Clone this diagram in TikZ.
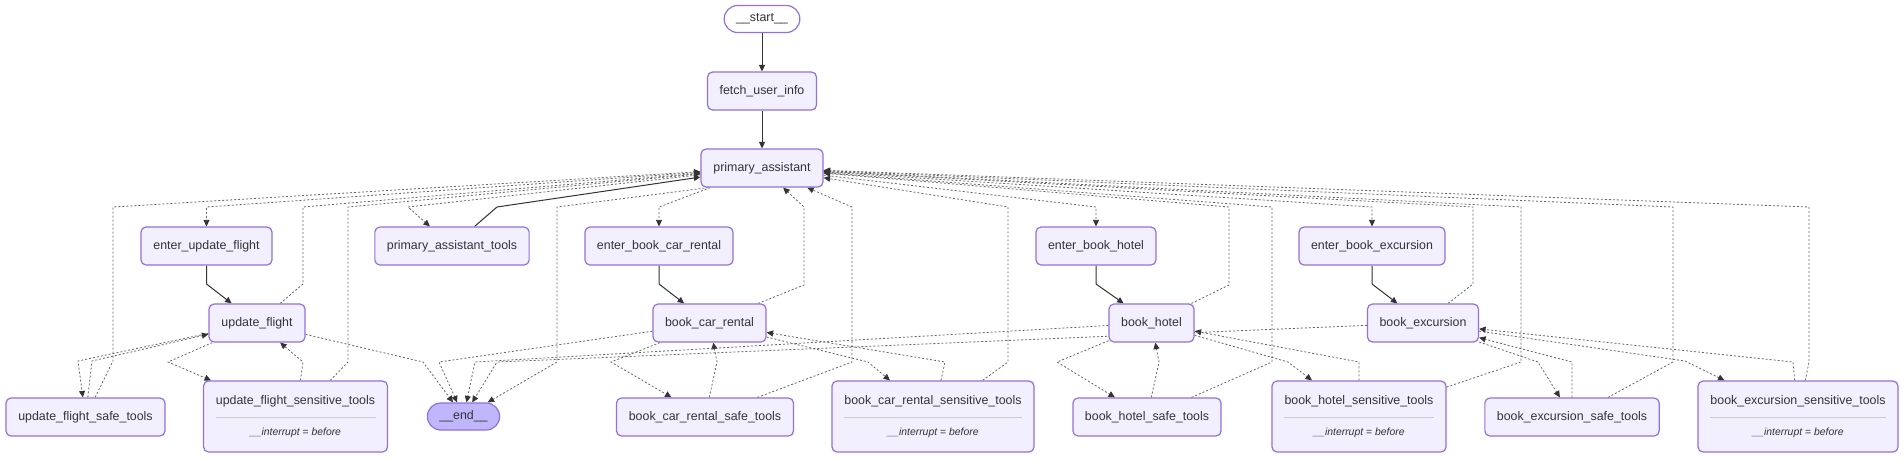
\documentclass[tikz,border=0pt]{standalone}
\usepackage{fontspec}
\setmainfont{Liberation Sans}
\usetikzlibrary{arrows.meta,backgrounds}
\definecolor{nodefill}{HTML}{F2F0FF}
\definecolor{nodeline}{HTML}{9370DB}
\definecolor{endfill}{HTML}{BFB6FC}
\definecolor{darktext}{HTML}{333333}
\definecolor{edgegray}{HTML}{666666}
\definecolor{divgray}{HTML}{CCCCCC}

\newcommand{\senslabel}[2]{#1\\[1pt]{\color{divgray}\rule[3pt]{#2pt}{0.8pt}}\\[0pt]{\fontsize{10.4}{12}\selectfont\itshape \_\_interrupt \upshape= \itshape before}}

\begin{document}
\begin{tikzpicture}[x=1pt, y=-1pt,
  box/.style={draw=nodeline, line width=1.2pt, fill=nodefill, rounded corners=5pt, minimum height=38pt, inner xsep=12pt, inner ysep=2pt, text=darktext, font=\fontsize{12.4}{14.8}\selectfont},
  sens/.style={box, minimum height=71pt, align=center},
  pill/.style={box, rounded corners=13.5pt, minimum height=27pt},
  flow/.style={draw=darktext, line width=1pt, -{Triangle[length=6.5pt,width=6pt]}},
  cond/.style={draw=edgegray, line width=0.8pt, dash pattern=on 2pt off 2pt, -{Triangle[length=6.5pt,width=6pt,color=darktext]}}
]
\useasboundingbox (0,0) rectangle (1904,459);

\node[pill, fill=white, minimum width=70pt] (start) at (762,19) {\_\_start\_\_};
\node[box, minimum width=109pt] (fetch) at (762,91) {fetch\_user\_info};
\node[box, minimum width=122pt] (pa) at (762,168) {primary\_assistant};

\node[box, minimum width=131pt] (euf) at (206.5,246) {enter\_update\_flight};
\node[box, minimum width=154pt] (pat) at (452,246) {primary\_assistant\_tools};
\node[box, minimum width=148pt] (ecar) at (659,246) {enter\_book\_car\_rental};
\node[box, minimum width=120pt] (ehotel) at (1096,246) {enter\_book\_hotel};
\node[box, minimum width=146pt] (eexc) at (1372,246) {enter\_book\_excursion};

\node[box, minimum width=96pt] (uf) at (257,323) {update\_flight};
\node[box, minimum width=113pt] (car) at (709.5,323) {book\_car\_rental};
\node[box, minimum width=85pt] (hotel) at (1151.5,323) {book\_hotel};
\node[box, minimum width=111pt] (exc) at (1423,323) {book\_excursion};

\node[box, minimum width=159pt] (ufsafe) at (85.5,417) {update\_flight\_safe\_tools};
\node[sens, minimum width=184pt] (ufsens) at (295.5,416.5) {\senslabel{update\_flight\_sensitive\_tools}{160}};
\node[pill, fill=endfill, minimum width=67pt] (finish) at (463.5,416.5) {\_\_end\_\_};
\node[box, minimum width=177pt] (carsafe) at (705,417) {book\_car\_rental\_safe\_tools};
\node[sens, minimum width=202pt] (carsens) at (933,416.5) {\senslabel{book\_car\_rental\_sensitive\_tools}{178}};
\node[box, minimum width=148pt] (hotelsafe) at (1147,417) {book\_hotel\_safe\_tools};
\node[sens, minimum width=174pt] (hotelsens) at (1359,416.5) {\senslabel{book\_hotel\_sensitive\_tools}{150}};
\node[box, minimum width=174pt] (excsafe) at (1572,417) {book\_excursion\_safe\_tools};
\node[sens, minimum width=200pt] (excsens) at (1798,416.5) {\senslabel{book\_excursion\_sensitive\_tools}{176}};

\begin{pgfonlayer}{background}
\fill[white] (0,0) rectangle (1904,459);

\draw[flow] (start) -- (fetch);
\draw[flow] (fetch) -- (pa);
\draw[flow] (pat) -- (497,207) -- (pa);
\draw[flow] (euf) -- (206.5,284) -- (uf);
\draw[flow] (ecar) -- (659,284) -- (car);
\draw[flow] (ehotel) -- (1096,284) -- (hotel);
\draw[flow] (eexc) -- (1372,284) -- (exc);

\draw[cond] (pa) -- (206.5,207) -- (euf);
\draw[cond] (pa) -- (408,207) -- (pat);
\draw[cond] ([xshift=8pt]pa.south west) -- (557,207) -- (557,362) -- (finish);
\draw[cond] (pa) -- (659,207) -- (ecar);
\draw[cond] (pa) -- (1096,207) -- (ehotel);
\draw[cond] (pa) -- (1372,207) -- (eexc);

\draw[cond] (ufsafe) -- (113,361) -- (113,207) -- (pa);
\draw[cond] (uf) -- (303,284) -- (303,207) -- (pa);
\draw[cond] (ufsens) -- (348,362) -- (348,207) -- (pa);
\draw[cond] (car) -- (804,285) -- (804,207) -- (pa);
\draw[cond] (carsafe) -- (852,362) -- (852,207) -- (pa);
\draw[cond] (carsens) -- (1008,362) -- (1008,207) -- (pa);
\draw[cond] (hotel) -- (1229,285) -- (1229,207) -- (pa);
\draw[cond] (hotelsafe) -- (1272,362) -- (1272,207) -- (pa);
\draw[cond] (hotelsens) -- (1521,362) -- (1521,207) -- (pa);
\draw[cond] (exc) -- (1473,284) -- (1473,207) -- (pa);
\draw[cond] (excsafe) -- (1673,362) -- (1673,207) -- (pa);
\draw[cond] (excsens) -- (1809,362) -- (1809,207) -- (pa);

\draw[cond] (uf) -- (78,361) -- (ufsafe);
\draw[cond] (ufsafe) -- (92,361) -- (uf);
\draw[cond] (uf) -- (168,362) -- (ufsens);
\draw[cond] (ufsens) -- (303,362) -- (uf);
\draw[cond] (uf) -- (423,362) -- (finish);

\draw[cond] (car) -- (611,362) -- (carsafe);
\draw[cond] (carsafe) -- (717,362) -- (car);
\draw[cond] (car) -- (868,362) -- (carsens);
\draw[cond] (carsens) -- (945,362) -- (car);
\draw[cond] (car) -- (439,362) -- (finish);

\draw[cond] (hotel) -- (1057,362) -- (hotelsafe);
\draw[cond] (hotelsafe) -- (1159,362) -- (hotel);
\draw[cond] (hotel) -- (1288,362) -- (hotelsens);
\draw[cond] (hotelsens) -- (1359,362) -- (hotel);
\draw[cond] (hotel) -- (475,362) -- (finish);

\draw[cond] (exc) -- (1538,362) -- (excsafe);
\draw[cond] (excsafe) -- (1572,362) -- (exc);
\draw[cond] (exc) -- (1685,361) -- (excsens);
\draw[cond] (excsens) -- (1793,362) -- (exc);
\draw[cond] (exc) -- (497,362) -- (finish);
\end{pgfonlayer}
\end{tikzpicture}
\end{document}
